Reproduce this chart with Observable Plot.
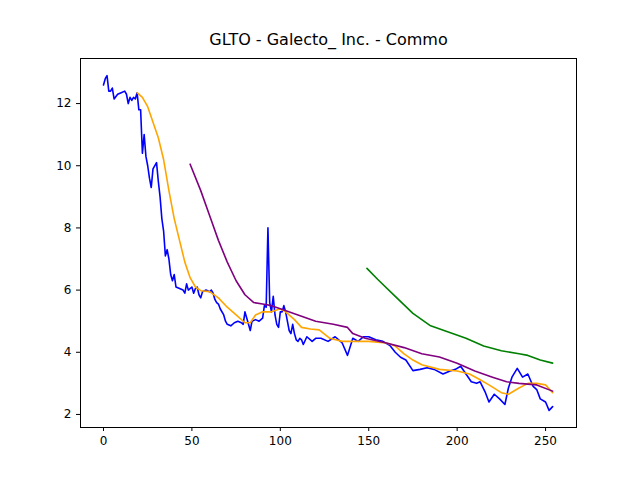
<!DOCTYPE html>
<html><head><meta charset="utf-8">
<script src="https://cdn.jsdelivr.net/npm/d3@7"></script>
<script src="https://cdn.jsdelivr.net/npm/@observablehq/plot@0.6"></script>
<style>body{margin:0;background:#fff}</style>
</head><body><div id="chart"></div>
<script>
// price (blue)
const priceX = [0,1,2,3,4,5,6,8,10,12,13,14,15,16,17,18,19,20,21,22,23,24,25,26,27,28,30,31,32,33,34,35,36,37,38,39,40,41,43,45,46,47,48,50,51,52,53,54,55,56,58,60,61,62,63,64,65,66,68,69,70,72,74,76,78,79,80,81,82,83,84,86,88,90,91,92,93,94,95,96,97,98,99,100,101,102,103,104,105,106,107,108,109,110,111,112,113,115,118,120,123,127,131,135,138,141,144,147,150,154,158,162,165,168,171,175,179,183,187,192,196,199,202,205,208,211,213,216,218,221,224,227,229,231,234,237,240,243,245,247,250,252,254];
const priceY = [12.6,12.8,12.9,12.4,12.4,12.5,12.15,12.3,12.35,12.4,12.3,12.0,12.2,12.1,12.2,12.15,12.35,11.8,11.8,10.4,11.0,10.3,10.0,9.6,9.3,9.9,10.1,9.5,9.0,8.3,7.9,7.1,7.3,7.0,6.5,6.3,6.5,6.1,6.05,6.0,5.9,6.2,6.0,6.1,5.9,6.05,6.1,5.85,5.75,5.95,6.0,5.95,6.0,5.9,5.7,5.6,5.55,5.4,5.2,5.0,4.9,4.85,4.95,5.0,4.95,4.9,5.3,5.1,4.9,4.7,5.0,5.05,5.0,5.1,5.5,5.45,8.0,5.6,5.3,5.8,5.2,4.9,4.8,5.3,5.3,5.5,5.3,5.0,4.7,4.6,4.9,4.6,4.4,4.35,4.45,4.4,4.25,4.5,4.35,4.45,4.45,4.35,4.5,4.3,3.9,4.45,4.35,4.5,4.5,4.4,4.35,4.22,4.0,3.84,3.75,3.41,3.45,3.5,3.45,3.3,3.4,3.45,3.55,3.3,3.05,3.0,3.05,2.7,2.4,2.65,2.5,2.32,2.85,3.2,3.48,3.2,3.3,2.9,2.8,2.5,2.4,2.13,2.25];
// moving averages
const ma20X = [19,22,25,28,31,34,37,40,43,46,49,52,55,60,65,70,75,80,83,86,90,95,100,103,108,112,117,122,128,135,145,150,160,165,170,175,180,190,200,207,212,218,225,229,235,240,245,250,254];
const ma20Y = [12.35,12.2,11.9,11.4,10.9,10.2,9.2,8.3,7.6,6.9,6.4,6.1,5.98,5.95,5.75,5.45,5.2,4.95,4.95,5.2,5.3,5.3,5.4,5.3,5.05,4.8,4.75,4.72,4.45,4.35,4.35,4.35,4.3,4.2,3.95,3.75,3.6,3.45,3.4,3.3,3.15,2.95,2.7,2.65,2.85,3.0,3.0,2.95,2.7];
const ma50X = [49,55,60,65,70,75,80,85,90,95,100,110,120,130,138,141,148,160,170,180,190,200,210,220,228,235,245,254];
const ma50Y = [10.05,9.2,8.4,7.6,6.9,6.3,5.85,5.6,5.55,5.5,5.4,5.2,5.0,4.9,4.8,4.6,4.45,4.3,4.15,3.95,3.85,3.65,3.4,3.2,3.05,3.0,2.95,2.75];
const ma150X = [149,155,165,175,185,195,205,215,225,235,240,247,254];
const ma150Y = [6.7,6.35,5.8,5.25,4.85,4.65,4.45,4.2,4.05,3.95,3.9,3.75,3.65];

const series = [
  {x: priceX, y: priceY, c: "blue"},
  {x: ma20X, y: ma20Y, c: "orange"},
  {x: ma50X, y: ma50Y, c: "purple"},
  {x: ma150X, y: ma150Y, c: "green"}
];

let chart = Plot.plot({
  width: 640, height: 480,
  marginLeft: 80, marginRight: 64, marginTop: 58, marginBottom: 53,
  style: {fontFamily: "DejaVu Sans", fontSize: "12px", color: "black", background: "white"},
  x: {domain: [-13, 267.5], ticks: [0,50,100,150,200,250], label: null, tickSize: 4},
  y: {domain: [1.58, 13.45], ticks: [2,4,6,8,10,12], label: null, tickSize: 4},
  marks: [
    Plot.frame({stroke: "black"}),
    ...series.map(s => Plot.line(s.x.map((v, i) => ({x: v, y: s.y[i]})), {x: "x", y: "y", stroke: s.c, strokeWidth: 1.6})),
    Plot.text(["GLTO - Galecto_ Inc. - Commo"], {frameAnchor: "top", dy: -14, fontSize: 16, lineAnchor: "bottom"})
  ]
});
d3.select('#chart').append(() => chart);
</script></body></html>
